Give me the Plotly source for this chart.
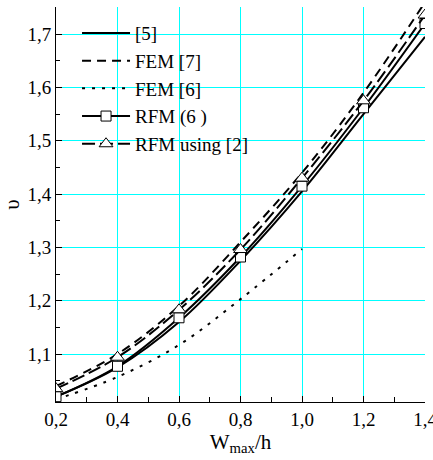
import plotly.graph_objects as go

x_vals = [0.2, 0.4, 0.6, 0.8, 1.0, 1.2, 1.4]
ref5 = [1.020, 1.075, 1.160, 1.275, 1.405, 1.550, 1.695]
fem7 = [1.040, 1.100, 1.190, 1.310, 1.440, 1.590, 1.760]
fem6_x = [0.2, 0.4, 0.6, 0.8, 1.0]
fem6 = [1.015, 1.057, 1.117, 1.203, 1.297]
rfm6 = [1.020, 1.077, 1.168, 1.282, 1.415, 1.562, 1.720]
rfm2 = [1.035, 1.094, 1.183, 1.296, 1.430, 1.575, 1.736]

x_ticks = [0.2, 0.4, 0.6, 0.8, 1.0, 1.2, 1.4]
y_ticks = [1.1, 1.2, 1.3, 1.4, 1.5, 1.6, 1.7]

FONT = "Liberation Serif"

fig = go.Figure()
fig.add_trace(go.Scatter(x=x_vals, y=ref5, name="[5]", mode="lines",
                         line=dict(color="black", width=2, shape="spline")))
fig.add_trace(go.Scatter(x=x_vals, y=fem7, name="FEM [7]", mode="lines",
                         line=dict(color="black", width=2, dash="9px,6px", shape="spline")))
fig.add_trace(go.Scatter(x=fem6_x, y=fem6, name="FEM [6]", mode="lines",
                         line=dict(color="black", width=2, dash="3px,7px", shape="spline")))
fig.add_trace(go.Scatter(x=x_vals, y=rfm6, name="RFM (6 )", mode="lines+markers",
                         line=dict(color="black", width=2, shape="spline"),
                         marker=dict(symbol="square", size=10, color="white",
                                     line=dict(color="black", width=1))))
fig.add_trace(go.Scatter(x=x_vals, y=rfm2, name="RFM using [2]", mode="lines+markers",
                         line=dict(color="black", width=2, dash="13px,5px", shape="spline"),
                         marker=dict(symbol="triangle-up", size=12, color="white",
                                     line=dict(color="black", width=1))))

fig.update_layout(
    template="none",
    width=433, height=460,
    margin=dict(l=56, r=8, t=7, b=58),
    paper_bgcolor="white", plot_bgcolor="white",
    separators=",.",
    font=dict(family=FONT, size=19, color="black"),
    showlegend=True,
    legend=dict(x=0.057, y=0.982, xanchor="left", yanchor="top",
                bgcolor="rgba(0,0,0,0)", borderwidth=0,
                font=dict(family=FONT, size=19, color="black"),
                itemwidth=48, tracegroupgap=0),
)
fig.update_xaxes(
    range=[0.2, 1.4], tickvals=x_ticks, tickformat=".1f",
    ticklabeloverflow="allow",
    showgrid=True, gridcolor="#00FFFF", gridwidth=1,
    showline=True, linecolor="black", linewidth=1,
    ticks="inside", ticklen=6, tickcolor="black",
    minor=dict(dtick=0.1, tick0=0.2, ticks="inside", ticklen=5, tickcolor="black",
               showgrid=False),
    zeroline=False,
    title=dict(text="W<sub>max</sub>/h", font=dict(family=FONT, size=21), standoff=4),
    tickfont=dict(family=FONT, size=19),
)
fig.update_yaxes(
    range=[1.01, 1.751], tickvals=y_ticks, tickformat=".1f",
    showgrid=True, gridcolor="#00FFFF", gridwidth=1,
    showline=True, linecolor="black", linewidth=1,
    ticks="inside", ticklen=6, tickcolor="black",
    minor=dict(dtick=0.05, tick0=1.0, ticks="inside", ticklen=4, tickcolor="black",
               showgrid=False),
    zeroline=False,
    title=dict(text="υ", font=dict(family=FONT, size=21), standoff=12),
    tickfont=dict(family=FONT, size=19),
)

fig.write_html("out.html", config={"displayModeBar": False},
               post_script="document.body.style.margin='0';")
